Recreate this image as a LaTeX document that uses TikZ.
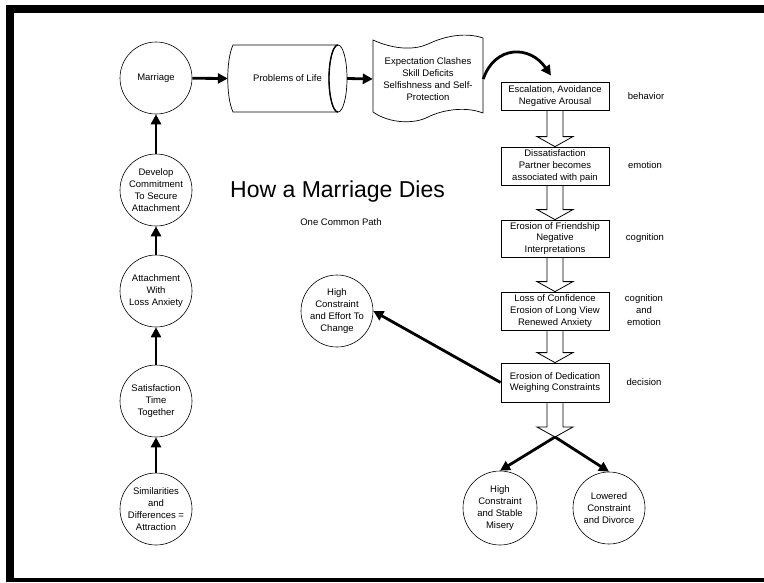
\documentclass[tikz,border=0pt]{standalone}
\usepackage{fontspec}
\setmainfont{Liberation Sans}
\usetikzlibrary{arrows.meta,calc}
\newcommand{\blockarr}[2]{%
  \draw[blk] ($(#1.south)+(-8,0)$) -- ($(#2)+(-8,-10)$) -- ($(#2)+(-18,-10)$) -- (#2)
     -- ($(#2)+(18,-10)$) -- ($(#2)+(8,-10)$) -- ($(#1.south)+(8,0)$);}
\begin{document}
\begin{tikzpicture}[x=1pt,y=-1pt,
  txt/.style={font=\fontsize{9.5}{11.8}\selectfont, align=center},
  circ/.style={circle, draw, line width=0.6pt, minimum size=72pt, inner sep=0pt, txt},
  box/.style={draw, line width=0.8pt, minimum width=108pt, inner sep=0pt, txt},
  heavy/.style={line width=2.8pt, -{Triangle[width=10pt,length=10pt]}},
  blk/.style={draw, line width=0.8pt},
  shapeline/.style={line width=0.7pt},
  side/.style={txt}]
\useasboundingbox (0,0) rectangle (764,582);
% frame
\fill (6,5) rectangle (764,13);
\fill (6,5) rectangle (14,582);
\fill (6,578) rectangle (764,582);

% left column
\node[circ] (mar) at (156,78) {Marriage};
\node[circ] (dev) at (156,190) {Develop\\Commitment\\To Secure\\Attachment};
\node[circ] (att) at (156,291) {Attachment\\With\\Loss Anxiety};
\node[circ] (sat) at (156,401) {Satisfaction\\Time\\Together};
\node[circ] (sim) at (156,509) {Similarities\\and\\Differences =\\Attraction};
\draw[heavy] (sim) -- (sat);
\draw[heavy] (sat) -- (att);
\draw[heavy] (att) -- (dev);
\draw[heavy] (dev) -- (mar);

% problems of life cylinder
\node[minimum width=119pt, minimum height=67pt, inner sep=0pt, txt] (prob) at (287.5,78.5) {Problems of Life};
\draw[shapeline] (338,45) -- (233,45) .. controls (226,60) and (226,97) .. (233,112) -- (338,112);
\draw[shapeline] (338,78.5) ellipse [x radius=9, y radius=33.5];
\draw[line width=1.4pt] (338,112) arc[start angle=90, end angle=270, x radius=9, y radius=33.5];

% expectation punched tape
\node[minimum width=110pt, minimum height=70pt, inner sep=0pt, txt] (exp) at (428,79)
  {Expectation Clashes\\Skill Deficits\\Selfishness and Self-\\Protection};
\draw[shapeline] (373,40) .. controls (395,50) and (415,50) .. (428,44)
   .. controls (445,36) and (465,32) .. (483,38) -- (483,113)
   .. controls (465,106) and (442,110) .. (428,117)
   .. controls (415,124) and (390,124) .. (373,112) -- cycle;

\draw[heavy] (mar) -- (prob.west);
\draw[heavy] (prob.east) -- (exp.west);

% title
\node[anchor=west, font=\fontsize{23}{27}\selectfont, inner sep=0pt] (title) at (230,192) {How a Marriage Dies};
\node[txt] (sub) at (341,222) {One Common Path};

% right column
\node[box, minimum height=28pt] (b1) at (555,96) {Escalation, Avoidance\\Negative Arousal};
\node[box, minimum height=38pt] (b2) at (555,166) {Dissatisfaction\\Partner becomes\\associated with pain};
\node[box, minimum height=37pt] (b3) at (555,238.5) {Erosion of Friendship\\Negative\\Interpretations};
\node[box, minimum height=38pt] (b4) at (555,311) {Loss of Confidence\\Erosion of Long View\\Renewed Anxiety};
\node[box, minimum height=39pt] (b5) at (555,382.5) {Erosion of Dedication\\Weighing Constraints};

\node[side] (l1) at (646,96) {behavior};
\node[side] (l2) at (645,165) {emotion};
\node[side] (l3) at (645,238) {cognition};
\node[side] (l4) at (644,310) {cognition\\and\\emotion};
\node[side] (l5) at (644,382) {decision};

\draw[heavy] (exp.east) .. controls (495,45) and (530,45) .. ($(b1.north)+(-4,-6)$);

\blockarr{b1}{b2.north}
\blockarr{b2}{b3.north}
\blockarr{b3}{b4.north}
\blockarr{b4}{b5.north}
\coordinate (split) at (555,437);
\blockarr{b5}{split}

% outcomes
\node[circ] (hc) at (337,311) {High\\Constraint\\and Effort To\\Change};
\node[circ, minimum size=74pt] (hsm) at (500,508) {High\\Constraint\\and Stable\\Misery};
\node[circ] (ldv) at (609,508) {Lowered\\Constraint\\and Divorce};
\draw[heavy] (b5.west) -- (hc.east);
\draw[heavy] (split) -- (hsm.north);
\draw[heavy] (split) -- (ldv.north);
\end{tikzpicture}
\end{document}
